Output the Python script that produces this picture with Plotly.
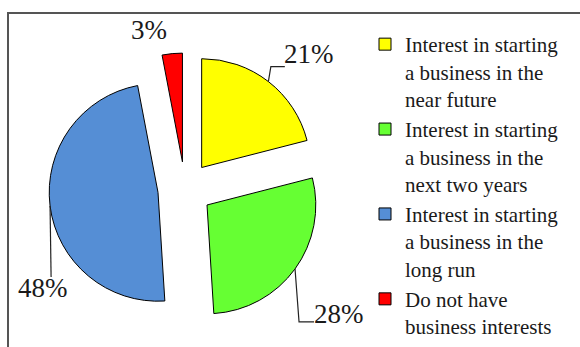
import math
import plotly.graph_objects as go

# ---- data ----
labels = [
    "Interest in starting<br>a business in the<br>near future",
    "Interest in starting<br>a business in the<br>next two years",
    "Interest in starting<br>a business in the<br>long run",
    "Do not have<br>business interests",
]
values = [21, 28, 48, 3]
colors = ["#FFFF00", "#66FF33", "#558ED5", "#FF0000"]

SERIF = "Times New Roman"
W, H = 580, 347
PULL = 0.25
# pie domain (pixels)
DX0, DX1 = 49, 321
DY0, DY1 = 53, 325  # from top

# label layout: offsets (px) from the mid-angle point on each slice's outer arc
leader = [
    [(2.5, -15), (16.5, -15)],
    [(4, 53), (19, 53)],
    [(1, 71)],
    None,
]
label_off = [(41, -28), (44, 45), (-7, 82), (-23, -24)]

fig = go.Figure(go.Pie(
    labels=labels, values=values, sort=False, direction="clockwise", rotation=0,
    marker=dict(colors=colors, line=dict(color="black", width=1)),
    pull=[PULL] * len(values), textinfo="none", hoverinfo="label+percent",
    domain=dict(x=[DX0 / W, DX1 / W], y=[1 - DY1 / H, 1 - DY0 / H]),
))

cx, cy = (DX0 + DX1) / 2, (DY0 + DY1) / 2
r = min(DX1 - DX0, DY1 - DY0) / (2 + 2 * PULL)
total = sum(values)

def px(x, y):
    return x / W, 1 - y / H

shapes = []
annotations = []
cum = 0
for i, v in enumerate(values):
    mid = (cum + v / 2) / total * 2 * math.pi
    cum += v
    dx, dy = math.sin(mid), -math.cos(mid)
    sx, sy = cx + PULL * r * dx, cy + PULL * r * dy
    ax_, ay_ = sx + r * dx, sy + r * dy
    if leader[i]:
        pts = [(ax_, ay_)] + [(ax_ + ox, ay_ + oy) for ox, oy in leader[i]]
        path = "M " + " L ".join("%.4f,%.4f" % px(x, y) for x, y in pts)
        shapes.append(dict(type="path", xref="paper", yref="paper", path=path,
                           line=dict(color="#222222", width=1.2)))
    lx, ly = px(ax_ + label_off[i][0], ay_ + label_off[i][1])
    annotations.append(dict(x=lx, y=ly, xref="paper", yref="paper", showarrow=False,
                            text="%d%%" % v, xanchor="center", yanchor="middle",
                            font=dict(family=SERIF, size=27, color="#1a1a1a")))

shapes.append(dict(type="rect", xref="paper", yref="paper", x0=8 / W, x1=1.2,
                   y0=-0.2, y1=1 - 13 / H, line=dict(color="#555555", width=2),
                   fillcolor="rgba(0,0,0,0)"))

fig.update_layout(
    width=W, height=H, margin=dict(l=0, r=0, t=0, b=0),
    paper_bgcolor="white", plot_bgcolor="white",
    font=dict(family=SERIF),
    shapes=shapes, annotations=annotations,
    showlegend=True,
    legend=dict(x=365 / W, y=1 - 31 / H, xanchor="left", yanchor="top",
                font=dict(family=SERIF, size=21, color="#1a1a1a"),
                valign="top", itemwidth=30, bgcolor="rgba(0,0,0,0)"),
)

fig.write_html("out.html")
